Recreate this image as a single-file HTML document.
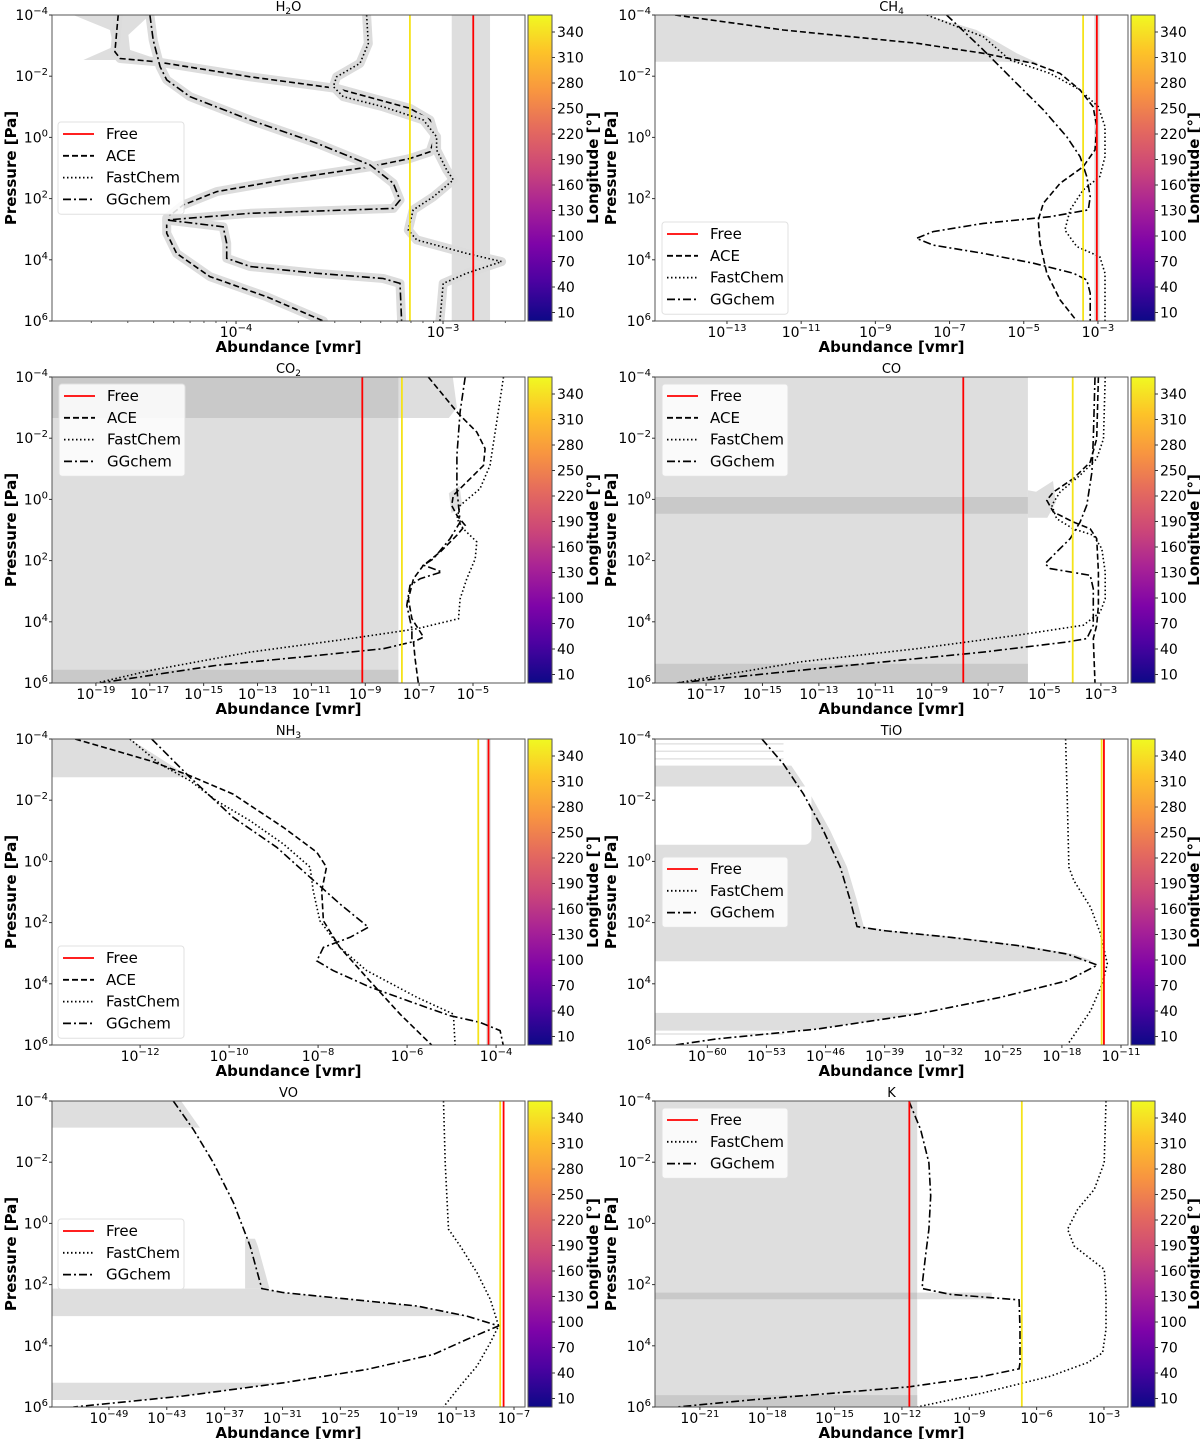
<!DOCTYPE html>
<html><head><meta charset="utf-8"><style>
html,body{margin:0;padding:0;background:#fff;}
svg{display:block;font-family:"DejaVu Sans","Liberation Sans",sans-serif;}
</style></head><body>
<svg id="fig" xmlns="http://www.w3.org/2000/svg" width="1200" height="1439" viewBox="0 0 1200 1439">
<defs>
<linearGradient id="plasma" x1="0" y1="1" x2="0" y2="0">
<stop offset="0" stop-color="#0d0887"/><stop offset="0.13" stop-color="#4c02a1"/><stop offset="0.25" stop-color="#7e03a8"/><stop offset="0.38" stop-color="#a92395"/><stop offset="0.5" stop-color="#cc4778"/><stop offset="0.63" stop-color="#e56b5d"/><stop offset="0.75" stop-color="#f89540"/><stop offset="0.88" stop-color="#fdc328"/><stop offset="1" stop-color="#f0f921"/>
</linearGradient>
</defs>
</svg>
<script>
// ===== data (log10 abundance, log10 pressure) =====
const h2o_ace_x=[-4.569,-4.585,-4.560,-4.383,-3.932,-3.514,-3.160,-3.063,-3.039,-3.063,-3.160,-3.353,-3.772,-4.093,-4.255,-4.335,-4.335,-4.287,-4.126,-3.852,-3.578];
const h2o_ace_p=[-4,-2.80,-2.58,-2.47,-1.98,-1.60,-0.95,-0.57,-0.02,0.47,0.69,0.96,1.39,1.77,2.21,2.64,3.13,3.79,4.55,5.21,6.0];
const h2o_fc_x=[-3.369,-3.361,-3.401,-3.514,-3.530,-3.482,-3.289,-3.095,-3.031,-3.031,-2.982,-2.950,-3.047,-3.144,-3.168,-3.127,-2.886,-2.717,-2.886,-2.999,-3.015];
const h2o_fc_p=[-4,-3.07,-2.42,-1.98,-1.66,-1.33,-1.00,-0.57,-0.02,0.41,1.07,1.39,1.94,2.37,3.03,3.35,3.79,4.06,4.44,4.77,6.0];
const h2o_gg_x=[-4.416,-4.400,-4.367,-4.335,-4.222,-3.932,-3.610,-3.353,-3.240,-3.208,-3.240,-3.449,-3.932,-4.335,-4.062,-4.045,-4.045,-3.932,-3.610,-3.289,-3.208,-3.200];
const h2o_gg_p=[-4,-3.18,-2.31,-1.88,-1.33,-0.57,0.19,0.90,1.50,2.05,2.32,2.37,2.48,2.70,2.92,3.46,3.95,4.22,4.44,4.61,4.77,6.0];
const h2o_free=-2.854, h2o_free_lo=-2.958, h2o_free_hi=-2.773, h2o_yellow=-3.160;

const ch4_ace_x=[-14.40,-11.48,-7.89,-6.09,-4.74,-4.02,-3.48,-3.13,-3.03,-3.08,-3.40,-4.02,-4.47,-4.61,-4.56,-4.38,-4.02,-3.57];
const ch4_ace_p=[-4,-3.51,-3.08,-2.75,-2.42,-2.09,-1.55,-1.0,-0.35,0.41,0.96,1.50,2.15,2.70,3.46,4.44,5.31,6.0];
const ch4_fc_x=[-7.61,-6.09,-5.37,-4.29,-3.48,-2.99,-2.81,-2.81,-2.95,-3.40,-3.75,-3.89,-3.57,-2.95,-2.81,-2.81];
const ch4_fc_p=[-4,-3.29,-2.53,-2.09,-1.55,-1.0,-0.35,0.63,1.28,1.72,2.37,3.03,3.57,3.90,4.44,6.0];
const ch4_gg_x=[-7.08,-6.09,-5.37,-4.47,-3.84,-3.48,-3.30,-3.21,-3.26,-4.29,-6.09,-7.44,-7.89,-7.44,-6.09,-4.74,-3.66,-3.30,-3.21,-3.21];
const ch4_gg_p=[-4,-2.86,-1.98,-0.90,-0.02,0.63,1.28,1.94,2.37,2.59,2.81,3.08,3.30,3.52,3.79,4.11,4.44,4.66,5.09,6.0];
const ch4_free=-3.03, ch4_yellow=-3.40;

const co2_ace_x=[-6.66,-6.10,-5.54,-4.86,-4.55,-4.61,-5.23,-5.73,-5.79,-5.60,-5.29,-5.60,-6.22,-6.84,-7.21,-7.40,-7.27,-6.84,-7.21,-7.15,-7.03];
const co2_ace_p=[-4,-3.40,-2.80,-2.20,-1.66,-1.11,-0.57,-0.13,0.20,0.52,0.85,1.17,1.72,2.15,2.59,3.25,3.90,4.50,4.66,5.21,6.0];
const co2_fc_x=[-3.87,-4.12,-4.37,-4.74,-5.48,-5.60,-5.36,-4.86,-4.92,-5.23,-5.48,-5.54,-7.09,-9.56,-13.28,-16.99,-18.97];
const co2_fc_p=[-4,-2.53,-1.11,-0.35,0.20,0.63,0.96,1.39,1.94,2.59,3.25,3.90,4.23,4.55,4.99,5.59,6.0];
const co2_gg_x=[-5.29,-5.48,-5.60,-5.60,-5.48,-5.85,-6.47,-6.84,-6.16,-6.96,-7.34,-7.46,-7.27,-7.27,-8.33,-10.80,-14.51,-18.85];
const co2_gg_p=[-4,-2.86,-1.44,-0.35,0.74,1.28,1.94,2.15,2.37,2.59,2.81,3.46,4.23,4.66,4.88,5.10,5.42,6.0];
const co2_free=-9.11, co2_yellow=-7.64;

const co_ace_x=[-3.09,-3.15,-3.38,-3.98,-4.69,-4.92,-4.69,-3.98,-3.38,-3.15,-3.09,-3.09,-3.15,-3.27,-3.21];
const co_ace_p=[-4,-1.98,-1.22,-0.68,-0.24,0.03,0.41,0.74,0.96,1.28,2.37,3.46,4.11,4.55,6.0];
const co_fc_x=[-2.85,-2.91,-3.15,-3.74,-4.45,-4.74,-4.57,-3.98,-3.27,-2.97,-2.85,-2.85,-3.03,-3.62,-5.98,-9.53,-13.67,-18.04];
const co_fc_p=[-4,-1.98,-1.33,-0.79,-0.24,0.19,0.63,0.96,1.17,1.61,2.37,3.25,3.69,4.11,4.44,4.88,5.31,6.0];
const co_gg_x=[-3.21,-3.27,-3.32,-3.50,-3.74,-4.09,-4.57,-4.98,-4.80,-3.38,-3.27,-3.27,-3.50,-4.21,-7.17,-10.71,-14.26,-18.04];
const co_gg_p=[-4,-1.98,-0.89,0.19,0.74,1.28,1.72,2.10,2.26,2.48,2.92,4.11,4.55,4.66,4.99,5.31,5.64,6.0];
const co_free=-7.88, co_yellow=-4.00;

const nh3_ace_x=[-13.46,-11.78,-10.88,-9.91,-8.78,-8.03,-7.81,-7.92,-7.88,-7.51,-6.91,-6.16,-5.45];
const nh3_ace_p=[-4,-3.29,-2.80,-2.20,-1.11,-0.30,0.19,0.96,1.94,2.81,3.79,4.99,6.0];
const nh3_fc_x=[-12.23,-11.55,-10.88,-10.28,-9.53,-8.78,-8.18,-8.11,-7.96,-7.51,-6.91,-5.78,-4.96,-4.92];
const nh3_fc_p=[-4,-3.18,-2.64,-1.98,-1.33,-0.57,0.19,0.96,1.94,2.81,3.57,4.44,4.99,6.0];
const nh3_gg_x=[-11.74,-10.88,-9.91,-8.93,-8.18,-7.51,-6.87,-7.28,-7.88,-8.03,-7.66,-6.83,-5.78,-5.04,-4.36,-3.91,-3.84];
const nh3_gg_p=[-4,-2.75,-1.44,-0.46,0.52,1.39,2.15,2.48,2.81,3.25,3.57,4.11,4.66,5.04,5.26,5.53,6.0];
const nh3_free=-4.17, nh3_yellow=-4.40;

const tio_fc_x=[-17.56,-17.36,-17.17,-16.58,-14.60,-13.41,-12.62,-13.21,-14.60,-17.36];
const tio_fc_p=[-4,-1.98,0.19,0.63,1.50,2.37,3.35,4.00,4.88,6.0];
const tio_gg_x=[-53.54,-50.98,-48.61,-46.24,-44.25,-43.07,-42.27,-39.12,-31.21,-23.29,-17.36,-13.80,-17.36,-25.27,-35.16,-47.02,-58.88,-63.83];
const tio_gg_p=[-4,-3.18,-2.20,-1.00,0.19,1.28,2.13,2.26,2.48,2.75,3.03,3.39,3.90,4.44,4.99,5.48,5.80,6.0];
const tio_free=-13.02, tio_yellow=-13.29;

const vo_fc_x=[-14.31,-14.13,-13.79,-12.58,-10.84,-9.46,-8.60,-9.46,-10.84,-12.58,-14.31];
const vo_fc_p=[-4,-1.98,0.19,0.74,1.61,2.48,3.35,3.90,4.66,5.31,6.0];
const vo_gg_x=[-42.32,-40.24,-38.17,-36.09,-34.36,-33.15,-30.91,-23.99,-17.07,-11.88,-8.60,-11.88,-15.35,-22.25,-30.91,-41.28,-48.19,-52.69];
const vo_gg_p=[-4,-3.07,-1.98,-0.68,0.74,2.13,2.26,2.48,2.70,3.03,3.35,3.79,4.28,4.77,5.21,5.64,5.86,6.0];
const vo_free=-8.08, vo_yellow=-8.43;

const k_fc_x=[-2.91,-2.99,-3.43,-4.17,-4.62,-4.33,-3.58,-2.99,-2.91,-2.91,-3.06,-3.73,-5.37,-8.34,-11.32];
const k_fc_p=[-4,-1.98,-1.11,-0.46,0.19,0.74,1.17,1.50,2.37,3.46,4.23,4.55,4.99,5.53,6.0];
const k_gg_x=[-11.69,-11.17,-10.80,-10.72,-10.80,-10.95,-11.09,-11.09,-9.83,-8.34,-6.78,-6.74,-6.74,-6.78,-8.34,-11.67,-15.78,-18.76,-22.03];
const k_gg_p=[-4,-3.07,-1.98,-0.90,0.19,1.07,1.94,2.13,2.32,2.41,2.50,3.46,4.55,4.75,4.99,5.34,5.59,5.77,6.0];
const k_free=-11.67, k_yellow=-6.66;

// axis ranges (log10) and ticks
const xranges={h2o:[-4.889,-2.604],ch4:[-14.94,-2.19],co2:[-20.63,-3.07],co:[-18.81,-2.04],nh3:[-13.98,-3.35],tio:[-66.2,-10.17],vo:[-54.9,-5.86],k:[-23.0,-1.93]};
const xticks={h2o:[-4,-3],ch4:[-13,-11,-9,-7,-5,-3],co2:[-19,-17,-15,-13,-11,-9,-7,-5],co:[-17,-15,-13,-11,-9,-7,-5,-3],nh3:[-12,-10,-8,-6,-4],tio:[-60,-53,-46,-39,-32,-25,-18,-11],vo:[-49,-43,-37,-31,-25,-19,-13,-7],k:[-21,-18,-15,-12,-9,-6,-3]};
const yticks=[-4,-2,0,2,4,6];
const cbarTicks=[10,40,70,100,130,160,190,220,250,280,310,340];

const NS="http://www.w3.org/2000/svg";
const svg=document.getElementById('fig');
function el(tag,attrs,parent){const e=document.createElementNS(NS,tag);for(const k in attrs)e.setAttribute(k,attrs[k]);(parent||svg).appendChild(e);return e;}
const W=473,H=306;
function sup(parent,x,y,base,exp,anchor,size){
  const t=el('text',{x:x,y:y,'font-size':size||14,'text-anchor':anchor||'middle',fill:'#000'},parent);
  t.appendChild(document.createTextNode(base));
  const s=el('tspan',{dy:-6,'font-size':10},t);s.textContent=exp;
  return t;
}
const dashes={ace:'6,3',fc:'1.5,2.5',gg:'8,3,2,3'};

function panel(key,col,row,title,sub,after,curves,shades,free,freeBand,yellow,legendPos,halo){
  const x0=col===0?52:655, y0=15+row*362;
  const [xmin,xmax]=xranges[key];
  const sx=v=>x0+(v-xmin)/(xmax-xmin)*W;
  const sy=p=>y0+(p+4)/10*H;
  const g=el('g',{});
  
  
  const clipId='clip-'+key;
  const cp=el('clipPath',{id:clipId},g);el('rect',{x:x0,y:y0,width:W,height:H},cp);
  const inner=el('g',{'clip-path':'url(#'+clipId+')'},g);
  shades.forEach(s=>{
    let pts;
    if(s.type==='rect'){pts=[[s.x0,s.p0],[s.x1,s.p0],[s.x1,s.p1],[s.x0,s.p1]];}
    else if(s.type==='poly'){pts=s.pts;}
    else if(s.type==='tocurve'){
      const cx=s.cx,cp2=s.cp;const interp=p=>{for(let i=0;i<cp2.length-1;i++){if(p>=cp2[i]&&p<=cp2[i+1]){const t=(p-cp2[i])/(cp2[i+1]-cp2[i]||1);return cx[i]+t*(cx[i+1]-cx[i]);}}return cx[cx.length-1];};
      const left=s.left!==undefined?s.left:xmin-5;
      pts=[[left,s.p0],[interp(s.p0)+(s.pad||0),s.p0]];
      for(let i=0;i<cp2.length;i++)if(cp2[i]>s.p0&&cp2[i]<s.p1)pts.push([cx[i]+(s.pad||0),cp2[i]]);
      pts.push([interp(s.p1)+(s.pad||0),s.p1]);pts.push([left,s.p1]);
    }
    const attrs={points:pts.map(q=>sx(q[0]).toFixed(1)+','+sy(q[1]).toFixed(1)).join(' '),fill:s.fill||'#dedede'};
    const poly=el('polygon',attrs,inner);
    if(s.round){poly.setAttribute('stroke',s.fill);poly.setAttribute('stroke-linejoin','round');poly.setAttribute('stroke-width',14);}
    
    
  });
  if(freeBand){const r=el('rect',{x:sx(freeBand[0]),y:y0,width:sx(freeBand[1])-sx(freeBand[0]),height:H,fill:'#dedede'},inner);
    
    }
  curves.forEach(c=>{
    const d=c.x.map((v,i)=>(i?'L':'M')+sx(v).toFixed(1)+','+sy(c.p[i]).toFixed(1)).join('');
    if(halo){const hp=el('path',{d:d,fill:'none',stroke:'#dcdcdc','stroke-width':9,'stroke-linejoin':'round','stroke-linecap':'round'},inner);
      
      }
    const p=el('path',{d:d,fill:'none',stroke:'#000','stroke-width':1.6,'stroke-dasharray':dashes[c.t]},inner);
    
    
  });
  const yl=el('line',{x1:sx(yellow),x2:sx(yellow),y1:y0,y2:y0+H,stroke:'#f5e31a','stroke-width':1.8},inner);
  
  
  const fl=el('line',{x1:sx(free),x2:sx(free),y1:y0,y2:y0+H,stroke:'#ff0000','stroke-width':1.8},inner);
  
  
  const fr=el('rect',{x:x0,y:y0,width:W,height:H,fill:'none',stroke:'#555','stroke-width':1},g);
  
  
  yticks.forEach(p=>{el('line',{x1:x0-3,x2:x0,y1:sy(p),y2:sy(p),stroke:'#333'},g);
    const t=sup(g,x0-4,sy(p)+5,'10',p<0?'\u2212'+(-p):String(p),'end');
    
    });
  xticks[key].forEach(v=>{el('line',{x1:sx(v),x2:sx(v),y1:y0+H,y2:y0+H+3,stroke:'#333'},g);
    const t=sup(g,sx(v),y0+H+16,'10','\u2212'+(-v),'middle');
    
    });
  if(key==='h2o'){for(let d=-5;d<=-3;d++)for(let m=2;m<=9;m++){const v=d+Math.log10(m);if(v>xmin&&v<xmax)el('line',{x1:sx(v),x2:sx(v),y1:y0+H,y2:y0+H+2,stroke:'#555'},g);}}
  const xt=el('text',{x:x0+W/2,y:y0+H+31,'font-size':15,'font-weight':'bold','text-anchor':'middle'},g);xt.textContent='Abundance [vmr]';
  
  
  const yx=col===0?16:616;
  const yt=el('text',{x:yx,y:y0+H/2,'font-size':15,'font-weight':'bold','text-anchor':'middle',transform:'rotate(-90 '+yx+' '+(y0+H/2)+')'},g);yt.textContent='Pressure [Pa]';
  
  
  const tt=el('text',{x:x0+W/2,y:y0-4,'font-size':13,'text-anchor':'middle'},g);
  tt.appendChild(document.createTextNode(title));
  if(sub){const s=el('tspan',{dy:3,'font-size':9},tt);s.textContent=sub;}
  if(after){const s=el('tspan',{dy:-3},tt);s.textContent=after;}
  
  
  const cx=x0+W+3;
  const cb=el('rect',{x:cx,y:y0,width:24,height:H,fill:'url(#plasma)',stroke:'#555','stroke-width':1},g);
  
  
  cbarTicks.forEach(v=>{const yy=y0+H-(v/360)*H;el('line',{x1:cx+24,x2:cx+27,y1:yy,y2:yy,stroke:'#333'},g);
    const t=el('text',{x:cx+29,y:yy+5,'font-size':14},g);t.textContent=v;
    
    });
  const lx=col===0?cx+70:1199;
  const ct=el('text',{x:lx,y:y0+H/2,'font-size':15,'font-weight':'bold','text-anchor':'middle',transform:'rotate(-90 '+lx+' '+(y0+H/2)+')'},g);ct.textContent='Longitude [°]';
  
  
  const names={free:'Free',ace:'ACE',fc:'FastChem',gg:'GGchem'};
  const entries=['free'].concat(curves.map(c=>c.t));
  const lg=el('g',{},g);
  
  
  const bx=x0+legendPos[0], by=y0+legendPos[1];
  el('rect',{x:bx,y:by,width:126,height:entries.length*21.8+5,rx:3,fill:'#fff','fill-opacity':0.85,stroke:'#e0e0e0'},lg);
  entries.forEach((e,i)=>{const yy=by+12+i*21.8;
    const it=el('g',{},lg);
    
    
    el('line',{x1:bx+5,x2:bx+36,y1:yy,y2:yy,stroke:e==='free'?'#ff0000':'#000','stroke-width':1.8,'stroke-dasharray':e==='free'?'none':dashes[e]},it);
    const t=el('text',{x:bx+48,y:yy+5,'font-size':15},it);t.textContent=names[e];});
}

const D='#c9c9c9';
panel('h2o',0,0,'H','2','O',[{t:'ace',x:h2o_ace_x,p:h2o_ace_p},{t:'fc',x:h2o_fc_x,p:h2o_fc_p},{t:'gg',x:h2o_gg_x,p:h2o_gg_p}],
 [{type:'poly',pts:[[-4.786,-4],[-4.416,-4],[-4.52,-3.35],[-4.512,-2.86],[-4.367,-2.53],[-4.738,-2.53],[-4.593,-2.96],[-4.609,-3.51]]}],
 h2o_free,[h2o_free_lo,h2o_free_hi],h2o_yellow,[6,107],true);
panel('ch4',1,0,'CH','4',null,[{t:'ace',x:ch4_ace_x,p:ch4_ace_p},{t:'fc',x:ch4_fc_x,p:ch4_fc_p},{t:'gg',x:ch4_gg_x,p:ch4_gg_p}],
 [{type:'poly',pts:[[-16,-4],[-7.61,-4],[-6.27,-3.51],[-5.19,-2.75],[-4.02,-2.09],[-4.6,-2.42],[-5.6,-2.47],[-16,-2.47]]}],
 ch4_free,[-3.1,-2.96],ch4_yellow,[7,207],false);
panel('co2',0,1,'CO','2',null,[{t:'ace',x:co2_ace_x,p:co2_ace_p},{t:'fc',x:co2_fc_x,p:co2_fc_p},{t:'gg',x:co2_gg_x,p:co2_gg_p}],
 [{type:'rect',x0:-22,x1:-7.77,p0:-4,p1:6},{type:'poly',pts:[[-7.77,-4],[-5.75,-4],[-5.6,-3.0],[-5.9,-2.66],[-7.77,-2.66]]},
  {type:'rect',x0:-22,x1:-7.77,p0:-4,p1:-2.66,fill:D},{type:'rect',x0:-22,x1:-7.77,p0:5.57,p1:6,fill:D},
  {type:'poly',pts:[[-5.9,-0.2],[-5.5,-0.45],[-5.4,0.2],[-5.8,0.45]]}],
 co2_free,null,co2_yellow,[7,7],false);
panel('co',1,1,'CO',null,null,[{t:'ace',x:co_ace_x,p:co_ace_p},{t:'fc',x:co_fc_x,p:co_fc_p},{t:'gg',x:co_gg_x,p:co_gg_p}],
 [{type:'rect',x0:-20,x1:-5.59,p0:-4,p1:6},{type:'poly',pts:[[-5.59,-0.3],[-5.3,-0.25],[-4.7,-0.6],[-4.6,0.1],[-4.9,0.6],[-5.59,0.6]]},
  {type:'rect',x0:-20,x1:-5.59,p0:-0.08,p1:0.47,fill:D},{type:'rect',x0:-20,x1:-5.59,p0:5.37,p1:6,fill:D}],
 co_free,null,co_yellow,[7,7],false);
panel('nh3',0,2,'NH','3',null,[{t:'ace',x:nh3_ace_x,p:nh3_ace_p},{t:'fc',x:nh3_fc_x,p:nh3_fc_p},{t:'gg',x:nh3_gg_x,p:nh3_gg_p}],
 [{type:'poly',pts:[[-15,-4],[-12.23,-4],[-10.88,-2.75],[-11.6,-2.75],[-15,-2.75]]}],
 nh3_free,[-4.22,-4.12],nh3_yellow,[6,207],false);
panel('tio',1,2,'TiO',null,null,[{t:'fc',x:tio_fc_x,p:tio_fc_p},{t:'gg',x:tio_gg_x,p:tio_gg_p}],
 [{type:'tocurve',cx:tio_gg_x,cp:tio_gg_p,p0:-3.13,p1:3.26,pad:0.8},
  {type:'rect',x0:-70,x1:-48.5,p0:-2.22,p1:-0.77,fill:'#fff',round:true},
  {type:'tocurve',cx:tio_gg_x,cp:tio_gg_p,p0:4.95,p1:5.53},
  {type:'rect',x0:-70,x1:-50.98,p0:-3.86,p1:-3.82},{type:'rect',x0:-70,x1:-50.98,p0:-3.62,p1:-3.58},{type:'rect',x0:-70,x1:-50.98,p0:-3.37,p1:-3.33},{type:'rect',x0:-70,x1:-50.98,p0:5.62,p1:5.66}],
 tio_free,null,tio_yellow,[7,118],false);
panel('vo',0,3,'VO',null,null,[{t:'fc',x:vo_fc_x,p:vo_fc_p},{t:'gg',x:vo_gg_x,p:vo_gg_p}],
 [{type:'tocurve',cx:vo_gg_x,cp:vo_gg_p,p0:-4,p1:-3.13,pad:0.8},
  {type:'tocurve',cx:vo_gg_x,cp:vo_gg_p,p0:0.5,p1:2.13,left:-34.88,pad:0.8},
  {type:'tocurve',cx:vo_gg_x,cp:vo_gg_p,p0:2.13,p1:3.03},
  {type:'tocurve',cx:vo_gg_x,cp:vo_gg_p,p0:5.21,p1:5.77}],
 vo_free,null,vo_yellow,[6,118],false);
panel('k',1,3,'K',null,null,[{t:'fc',x:k_fc_x,p:k_fc_p},{t:'gg',x:k_gg_x,p:k_gg_p}],
 [{type:'rect',x0:-25,x1:-11.32,p0:-4,p1:6},{type:'rect',x0:-11.32,x1:-8.0,p0:2.26,p1:2.48},
  {type:'rect',x0:-25,x1:-11.32,p0:2.26,p1:2.48,fill:D},{type:'rect',x0:-25,x1:-11.32,p0:5.61,p1:6,fill:D}],
 k_free,null,k_yellow,[7,7],false);
</script>
</body></html>
